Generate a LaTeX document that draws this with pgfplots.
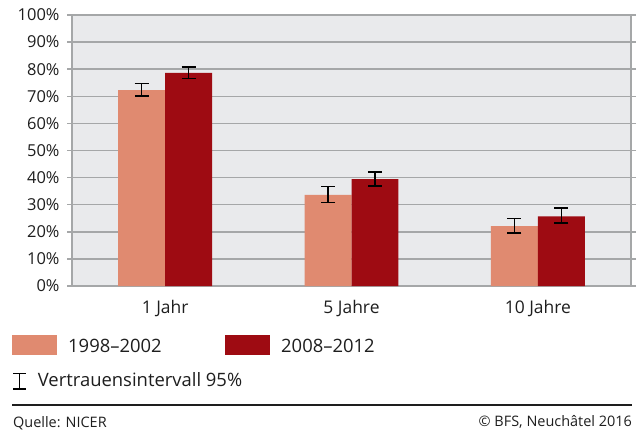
\documentclass[border=0pt]{standalone}
\usepackage{fontspec}
\setmainfont{Open Sans}
\usepackage{pgfplots}
\usepackage{pgfplotstable}
\pgfplotsset{compat=1.18}
\definecolor{lightbar}{RGB}{224,138,112}
\definecolor{darkbar}{RGB}{158,11,18}
\definecolor{bgc}{RGB}{233,234,236}
\definecolor{gridc}{RGB}{165,167,168}
\definecolor{txt}{RGB}{30,30,30}

\pgfplotstableread{
x y ep em
-0.126 72.3 2.5 2.2
0.874 33.6 3.1 2.8
1.874 22.1 2.8 2.5
}\tabA
\pgfplotstableread{
x y ep em
0.126 78.6 2.3 2.0
1.126 39.4 2.6 2.5
2.126 25.7 3.0 2.5
}\tabB

\begin{document}
\begin{tikzpicture}[x=1bp,y=1bp]
\useasboundingbox (0,0) rectangle (640,-433);
\begin{axis}[at={(72bp,-286bp)}, anchor=south west, scale only axis,
  width=559bp, height=271bp,
  xmin=-0.5, xmax=2.5, ymin=0, ymax=100,
  axis background/.style={fill=bgc},
  axis line style={gridc, line width=1.5bp},
  ytick={0,10,...,100},
  yticklabel={\pgfmathprintnumber[assume math mode=true]{\tick}\%},
  ymajorgrids, grid style={gridc, line width=1.5bp},
  xtick={0,1,2}, xticklabels={1 Jahr,5 Jahre,10 Jahre},
  xtick style={draw=none},
  ytick style={gridc, line width=1.5bp},
  tick align=outside, major tick length=5bp,
  yticklabel style={font=\fontsize{16.5}{20}\selectfont, text=txt, xshift=-4bp},
  xticklabel style={font=\fontsize{17.5}{21}\selectfont, text=txt, yshift=-6bp},
  error bars/error bar style={black, line width=1.5bp},
  error bars/error mark options={black, rotate=90, mark size=7bp, line width=1.5bp},
]
\addplot[ybar, bar width=0.252, bar shift=0, fill=lightbar, draw=none,
  error bars/.cd, y dir=both, y explicit]
  table[x=x, y=y, y error plus=ep, y error minus=em]{\tabA};
\addplot[ybar, bar width=0.252, bar shift=0, fill=darkbar, draw=none,
  error bars/.cd, y dir=both, y explicit]
  table[x=x, y=y, y error plus=ep, y error minus=em]{\tabB};
\end{axis}
\fill[lightbar] (12,-335) rectangle (57,-355);
\fill[darkbar] (225,-335) rectangle (270,-355);
\begin{scope}[every node/.style={inner sep=0pt, text=txt, font=\fontsize{18.5}{22}\selectfont}]
\node[anchor=base west] at (68,-352.3) {1998--2002};
\node[anchor=base west] at (281,-352.3) {2008--2012};
\node[anchor=base west] at (37.7,-386.7) {Vertrauensintervall 95\%};
\end{scope}
\draw[line width=1.5bp, black] (13,-373.5)--(26,-373.5) (19.5,-373.5)--(19.5,-389) (13,-389)--(26,-389);
\draw[line width=1.3bp, txt] (12,-405) -- (632,-405);
\node[anchor=base west, inner sep=0pt, text=txt, font=\fontsize{14.5}{17}\selectfont] at (13,-427) {Quelle: NICER};
\node[anchor=base east, inner sep=0pt, text=txt, font=\fontsize{14.5}{17}\selectfont] at (632,-426) {© BFS, Neuchâtel 2016};
\end{tikzpicture}
\end{document}
